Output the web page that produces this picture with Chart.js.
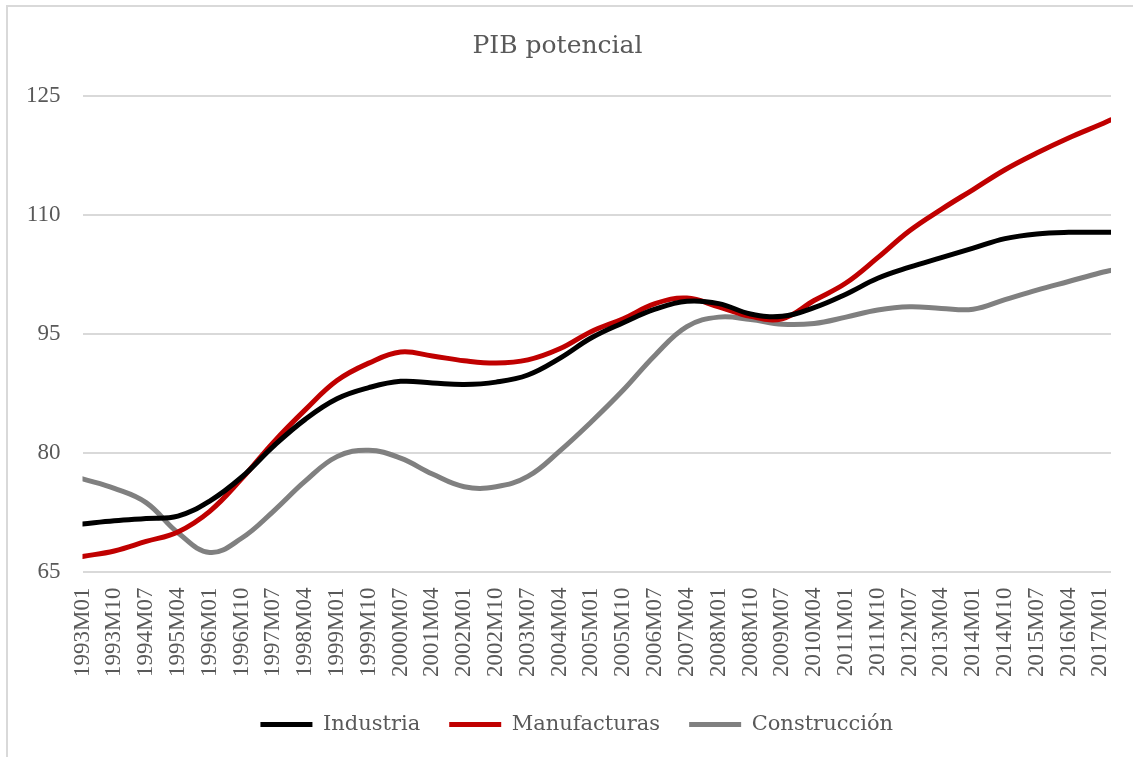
<!DOCTYPE html>
<html>
<head>
<meta charset="utf-8">
<script src="https://cdn.jsdelivr.net/npm/chart.js@4/dist/chart.umd.min.js"></script>
<style>
    body { margin: 0; background: #fff; overflow: hidden; }
    #marco { position: absolute; left: 6px; top: 5px; width: 1200px; height: 900px; border: 2px solid #d9d9d9; }
    #grafico { position: absolute; left: 0; top: 0; }
</style>
</head>
<body>
<div id="marco"></div>
<canvas id="grafico" width="1133" height="757"></canvas>
<script>
// fechas de muestra (cada 9 meses + último dato)
const fechas = [
    '1993M01', '1993M10', '1994M07', '1995M04', '1996M01', '1996M10', '1997M07', '1998M04',
    '1999M01', '1999M10', '2000M07', '2001M04', '2002M01', '2002M10', '2003M07', '2004M04',
    '2005M01', '2005M10', '2006M07', '2007M04', '2008M01', '2008M10', '2009M07', '2010M04',
    '2011M01', '2011M10', '2012M07', '2013M04', '2014M01', '2014M10', '2015M07', '2016M04',
    '2017M01', '2017M04',
];

const industria = [
    71.0, 71.4, 71.7, 72.0, 73.9, 76.9, 80.8, 84.2,
    86.8, 88.2, 89.0, 88.8, 88.6, 88.9, 89.8, 91.9,
    94.5, 96.4, 98.1, 99.1, 98.8, 97.5, 97.2, 98.3,
    100.0, 102.0, 103.4, 104.6, 105.8, 107.0, 107.6, 107.8,
    107.8, 107.8,
];

const manufacturas = [
    66.9, 67.6, 68.8, 70.0, 72.6, 76.7, 81.3, 85.4,
    89.1, 91.3, 92.7, 92.2, 91.6, 91.3, 91.7, 93.1,
    95.3, 96.9, 98.8, 99.5, 98.4, 97.2, 96.9, 99.2,
    101.4, 104.6, 108.0, 110.7, 113.2, 115.7, 117.8, 119.7,
    121.4, 122.0,
];

const construccion = [
    76.7, 75.5, 73.7, 69.9, 67.4, 69.2, 72.6, 76.4,
    79.5, 80.3, 79.3, 77.3, 75.7, 75.7, 77.0, 80.2,
    83.9, 87.9, 92.3, 95.9, 97.1, 96.8, 96.2, 96.3,
    97.1, 98.0, 98.4, 98.2, 98.1, 99.3, 100.5, 101.6,
    102.7, 103.0,
];

const inicio = 1993;

const aMes = (f) => (parseInt(f.slice(0, 4)) - inicio) * 12 + parseInt(f.slice(5)) - 1;
const aEtiqueta = (m) => (inicio + Math.floor(m / 12)) + 'M' + String((m % 12) + 1).padStart(2, '0');

const puntos = (serie) => serie.map((v, i) => ({ x: aMes(fechas[i]), y: v }));

const fuenteNum = 'Liberation Serif';
const fuenteTxt = 'DejaVu Serif';
const gris = '#595959';

const serie = (nombre, datos, color) => ({
    label: nombre,
    data: puntos(datos),
    borderColor: color,
    backgroundColor: color,
    borderWidth: 5,
    borderCapStyle: 'round',
    pointRadius: 0,
    tension: 0.4,
});

// corre la leyenda un poco a la izquierda, como en el original
const moverLeyenda = {
    id: 'moverLeyenda',
    afterLayout: (chart) => {
        chart.legend.left -= 20;
        chart.legend.right -= 20;
    },
};

new Chart(document.getElementById('grafico'), {
    type: 'line',
    data: {
        datasets: [
            serie('Industria', industria, '#000000'),
            serie('Manufacturas', manufacturas, '#c00000'),
            serie('Construcción', construccion, '#808080'),
        ],
    },
    plugins: [moverLeyenda],
    options: {
        responsive: false,
        animation: false,
        layout: { padding: { left: 4, right: 22, top: 0, bottom: 12 } },
        plugins: {
            title: {
                display: true,
                text: 'PIB potencial',
                color: gris,
                font: { family: fuenteTxt, size: 25, weight: 'normal' },
                padding: { top: 31, bottom: 35 },
            },
            legend: {
                position: 'bottom',
                fullSize: false,
                labels: {
                    color: gris,
                    font: { family: fuenteTxt, size: 21 },
                    usePointStyle: true,
                    pointStyle: 'line',
                    pointStyleWidth: 52,
                    padding: 29,
                },
            },
            tooltip: { enabled: false },
        },
        scales: {
            x: {
                type: 'linear',
                min: 0,
                max: aMes(fechas[fechas.length - 1]),
                grid: { display: false },
                border: { display: false },
                afterFit: (scale) => {
                    scale.paddingLeft = 0;
                    scale.paddingRight = 0;
                },
                ticks: {
                    stepSize: 9,
                    includeBounds: false,
                    autoSkip: false,
                    minRotation: 90,
                    maxRotation: 90,
                    padding: 8,
                    color: gris,
                    font: { family: fuenteNum, size: 23 },
                    callback: (v) => aEtiqueta(v),
                },
            },
            y: {
                min: 65,
                max: 125,
                grid: { color: '#d9d9d9', lineWidth: 2, drawTicks: false },
                border: { display: false },
                ticks: {
                    stepSize: 15,
                    padding: 22,
                    color: gris,
                    font: { family: fuenteNum, size: 23 },
                },
            },
        },
    },
});
</script>
</body>
</html>
